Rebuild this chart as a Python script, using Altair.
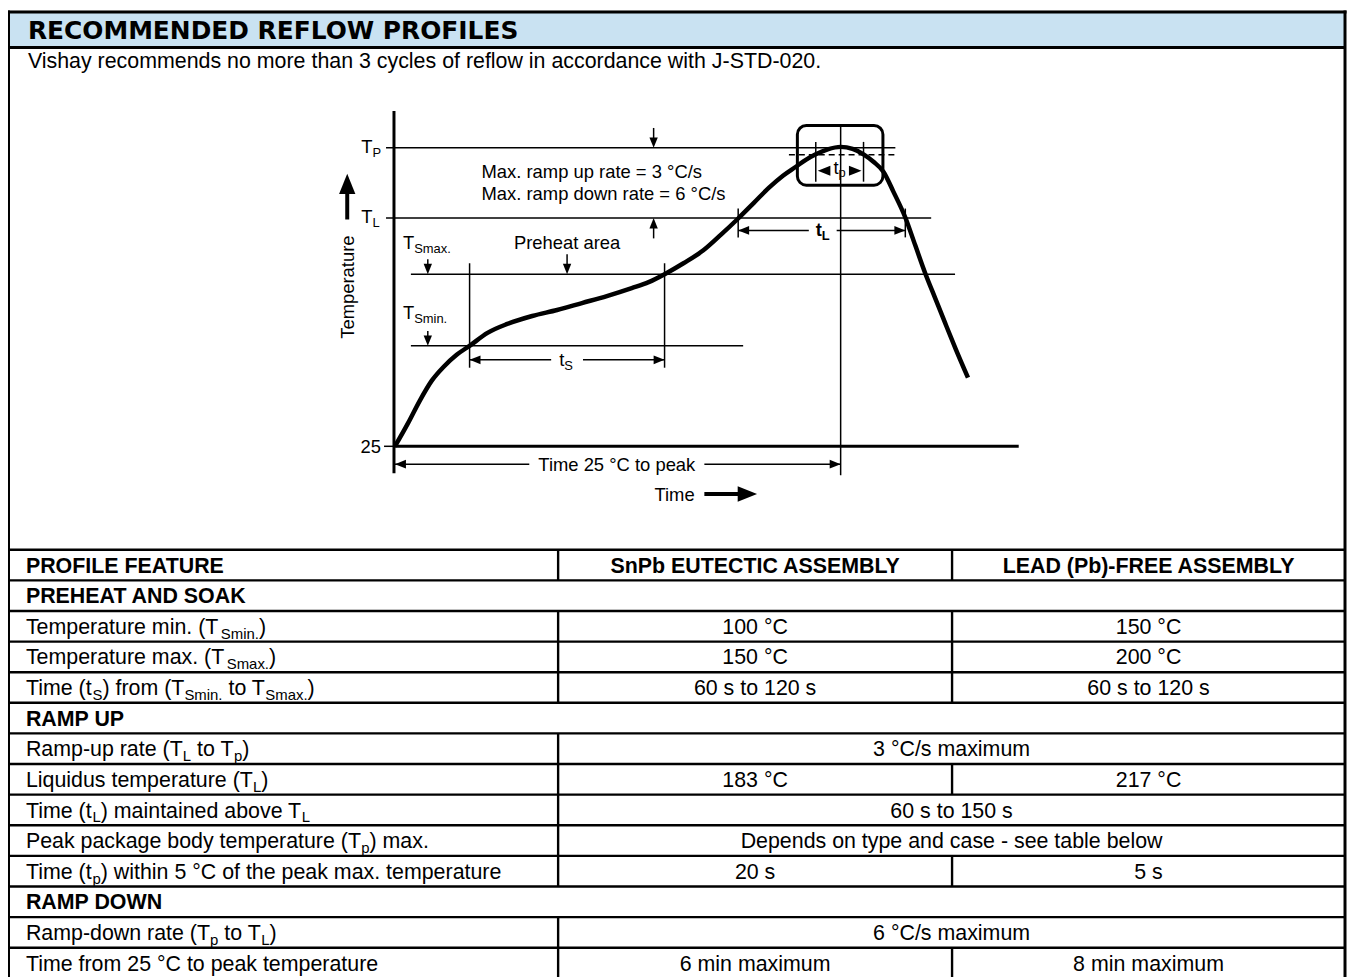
import altair as alt
import pandas as pd

# ---------------- content ----------------
TITLE = "RECOMMENDED REFLOW PROFILES"
NOTE = "Vishay recommends no more than 3 cycles of reflow in accordance with J-STD-020."

# Reflow profile curve (diagram layout units)
curve_time = [397, 410, 422, 434, 446, 459, 472, 490, 510, 535, 560, 585, 610, 635, 652, 668,
              687, 707, 725, 742, 758, 773, 787, 800, 810, 820, 832, 845, 857, 868, 878, 888,
              898, 910, 920, 930, 940, 950, 961, 973]
curve_temp = [446, 423, 400, 380, 366, 354, 345, 332, 323, 315, 309, 302, 295, 287, 281, 273,
              262, 249, 233, 217, 201, 186, 174, 165, 158, 152.5, 147.5, 145, 147, 152.5, 160, 170,
              190, 216, 244, 272, 297, 322, 349, 377]

# temperature levels of the schematic (layout units)
T_P, T_L, T_SMAX, T_SMIN, T_25 = 146, 216.5, 273, 345, 446
# time marks of the schematic (layout units)
T0, TS_A, TS_B, TL_A, T_PEAK, TL_B = 397, 472, 668, 742, 845, 910

# table
feature_rows = [
    [("PROFILE FEATURE", 0)],
    [("PREHEAT AND SOAK", 0)],
    [("Temperature min. (T", 0), ("Smin.", 1), (")", 0)],
    [("Temperature max. (T", 0), ("Smax.", 1), (")", 0)],
    [("Time (t", 0), ("S", 1), (") from (T", 0), ("Smin.", 1), (" to T", 0), ("Smax.", 1), (")", 0)],
    [("RAMP UP", 0)],
    [("Ramp-up rate (T", 0), ("L", 1), (" to T", 0), ("p", 1), (")", 0)],
    [("Liquidus temperature (T", 0), ("L", 1), (")", 0)],
    [("Time (t", 0), ("L", 1), (") maintained above T", 0), ("L", 1)],
    [("Peak package body temperature (T", 0), ("p", 1), (") max.", 0)],
    [("Time (t", 0), ("p", 1), (") within 5 °C of the peak max. temperature", 0)],
    [("RAMP DOWN", 0)],
    [("Ramp-down rate (T", 0), ("p", 1), (" to T", 0), ("L", 1), (")", 0)],
    [("Time from 25 °C to peak temperature", 0)],
]
row_type = ["header", "section", "item", "item", "item", "section", "item", "item",
            "item", "item", "item", "section", "item", "item"]
snpb = ["SnPb EUTECTIC ASSEMBLY", "", "100 °C", "150 °C", "60 s to 120 s", "",
        "3 °C/s maximum", "183 °C", "60 s to 150 s",
        "Depends on type and case - see table below", "20 s", "", "6 °C/s maximum",
        "6 min maximum"]
pbfree = ["LEAD (Pb)-FREE ASSEMBLY", "", "150 °C", "200 °C", "60 s to 120 s", "",
          "", "217 °C", "", "", "5 s", "", "", "8 min maximum"]
merged = [False, False, False, False, False, False, True, False, True, True, False, False,
          True, False]

# ---------------- layout helpers ----------------
FONT = "Liberation Sans"
_AR = {' ': 278, '!': 278, '(': 333, ')': 333, '-': 333, '.': 278, '/': 278, ',': 278,
       '=': 584, '°': 400, ':': 278,
       'A': 667, 'B': 667, 'C': 722, 'D': 722, 'E': 667, 'F': 611, 'G': 778, 'H': 722,
       'I': 278, 'J': 500, 'K': 667, 'L': 556, 'M': 833, 'N': 722, 'O': 778, 'P': 667,
       'Q': 778, 'R': 722, 'S': 667, 'T': 611, 'U': 722, 'V': 667, 'W': 944, 'X': 667,
       'Y': 667, 'Z': 611,
       'a': 556, 'b': 556, 'c': 500, 'd': 556, 'e': 556, 'f': 278, 'g': 556, 'h': 556,
       'i': 222, 'j': 222, 'k': 500, 'l': 222, 'm': 833, 'n': 556, 'o': 556, 'p': 556,
       'q': 556, 'r': 333, 's': 500, 't': 278, 'u': 556, 'v': 500, 'w': 722, 'x': 500,
       'y': 500, 'z': 500}
_AB = {' ': 278, '(': 333, ')': 333, '-': 333, '.': 278,
       'A': 722, 'B': 722, 'C': 722, 'D': 722, 'E': 667, 'F': 611, 'G': 778, 'H': 722,
       'I': 278, 'K': 722, 'L': 611, 'M': 833, 'N': 722, 'O': 778, 'P': 667, 'R': 722,
       'S': 667, 'T': 611, 'U': 722, 'W': 944, 'Y': 667, 'b': 611, 'n': 611, 't': 333}


def tw(s, size, bold=False):
    tbl = _AB if bold else _AR
    return sum(tbl.get(c, 556) for c in s) * size / 1000.0


def seg_width(segs, size, sub, bold=False):
    return sum(tw(t, sub if s else size, bold) for t, s in segs)


def place(segs, x0, base, size, sub, drop, bold=False):
    out = []
    x = x0
    for txt, is_sub in segs:
        s = sub if is_sub else size
        lead = len(txt) - len(txt.lstrip(' '))
        trail = len(txt) - len(txt.rstrip(' '))
        core = txt.strip(' ')
        x += tw(' ' * lead, s, bold)
        out.append({"x": x, "y": base + (drop if is_sub else 0), "text": core, "size": s})
        x += tw(core, s, bold) + tw(' ' * trail, s, bold)
    return out


XS = alt.Scale(domain=[8, 1354], range=[0, 1346], nice=False, zero=False)
YS = alt.Scale(domain=[8, 1000], range=[0, 992], nice=False, zero=False)


def X(f):
    return alt.X(f, type="quantitative", scale=XS, axis=None)


def Y(f):
    return alt.Y(f, type="quantitative", scale=YS, axis=None)


# ---------------- geometry ----------------
DS, DSUB = 18.5, 13      # diagram font sizes
TS_, TSUB = 21.5, 15     # table font sizes

lines = []   # x, x2, y, y2, w


def hline(y, xa, xb, w):
    lines.append({"x": xa, "x2": xb, "y": y, "y2": y, "w": w})


def vline(x, ya, yb, w):
    lines.append({"x": x, "x2": x, "y": ya, "y2": yb, "w": w})


TOP = 9.5
# frame & header
vline(8.5, TOP - 1.5, 1000, 3)
vline(1352, TOP - 1.5, 1000, 3)
hline(TOP, 7, 1353.5, 3)
hline(45, 8, 1352, 3)

# diagram axes
vline(T0 - 1, 109, 473, 3)
hline(T_25, T0 - 1, 1024, 3)
hline(T_25, 386, T0 - 1, 1.5)
# levels
hline(T_P, 388, 900, 1.5)
hline(T_L, 388, 936, 1.5)
hline(T_SMAX, 413, 960, 1.5)
hline(T_SMIN, 413, 747, 1.5)
# time verticals
vline(TS_A, 262, 367, 1.5)
vline(TS_B, 262, 367, 1.5)
vline(T_PEAK, 123, 475, 1.5)
vline(TL_A, 207, 236, 1.5)
vline(TL_B, 207, 236, 1.5)
vline(820, 140, 180, 1.5)
vline(868, 140, 180, 1.5)
# dimension arrows
hline(464, T0, 532, 1.5)
hline(464, 708, T_PEAK, 1.5)
hline(359, TS_A, 554, 1.5)
hline(359, 586, TS_B, 1.5)
hline(229, TL_A, 813, 1.5)
hline(229, 841, TL_B, 1.5)
# small pointer arrows
vline(657, 126, 140, 1.5)
vline(657, 224, 237, 1.5)
vline(430, 258, 266, 1.5)
vline(430, 330, 338, 1.5)
vline(570, 253, 266, 1.5)
# big arrows
vline(349, 190, 218, 4)
hline(494, 708, 743, 4)

# table grid
ROW0, ROWH = 550, 30.77
bounds = [ROW0 + ROWH * k for k in range(15)]
for b in bounds:
    hline(b, 8, 1352, 2.4)
for r, kind in enumerate(row_type):
    if kind == "section":
        continue
    vline(561, bounds[r], bounds[r + 1], 2.4)
    if not merged[r]:
        vline(957, bounds[r], bounds[r + 1], 2.4)

heads = [  # x, y, angle, size
    {"x": T0, "y": 464, "angle": 180, "size": 121},
    {"x": T_PEAK, "y": 464, "angle": 0, "size": 121},
    {"x": TS_A, "y": 359, "angle": 180, "size": 121},
    {"x": TS_B, "y": 359, "angle": 0, "size": 121},
    {"x": TL_A, "y": 229, "angle": 180, "size": 121},
    {"x": TL_B, "y": 229, "angle": 0, "size": 121},
    {"x": 822, "y": 169, "angle": 180, "size": 160},
    {"x": 866, "y": 169, "angle": 0, "size": 160},
    {"x": 657, "y": T_P, "angle": 90, "size": 110},
    {"x": 657, "y": T_L, "angle": 270, "size": 110},
    {"x": 430, "y": T_SMAX, "angle": 90, "size": 110},
    {"x": 430, "y": T_SMIN, "angle": 90, "size": 110},
    {"x": 570, "y": T_SMAX, "angle": 90, "size": 110},
    {"x": 349, "y": 172, "angle": 270, "size": 420},
    {"x": 761, "y": 494, "angle": 0, "size": 380},
]

# texts
left_reg, left_bold, cen_reg, cen_bold = [], [], [], []
left_reg.append({"x": 28, "y": 66, "text": NOTE, "size": TS_})
left_reg.append({"x": 484, "y": 176.5, "text": "Max. ramp up rate = 3 °C/s", "size": DS})
left_reg.append({"x": 484, "y": 198.5, "text": "Max. ramp down rate = 6 °C/s", "size": DS})
left_reg += place([("T", 0), ("P", 1)], 363, T_P + 5, DS, DSUB, 4)
left_reg += place([("T", 0), ("L", 1)], 363, T_L + 5, DS, DSUB, 4)
left_reg += place([("T", 0), ("Smax.", 1)], 405, 248, DS, DSUB, 4)
left_reg += place([("T", 0), ("Smin.", 1)], 405, 318, DS, DSUB, 4)
left_reg += place([("25", 0)], 383 - tw("25", DS), T_25 + 6.6, DS, DSUB, 4)
segs = [("t", 0), ("S", 1)]
left_reg += place(segs, 569 - seg_width(segs, DS, DSUB) / 2, 365, DS, DSUB, 4)
segs = [("t", 0), ("p", 1)]
left_reg += place(segs, 844 - seg_width(segs, DS, DSUB) / 2, 172, DS, DSUB, 3)
segs = [("t", 0), ("L", 1)]
left_bold += place(segs, 827 - seg_width(segs, DS, DSUB, True) / 2, 235, DS, DSUB, 4, True)
cen_reg.append({"x": 570, "y": 248, "text": "Preheat area", "size": DS})
cen_reg.append({"x": 620, "y": 470.6, "text": "Time 25 °C to peak", "size": DS})
cen_reg.append({"x": 678, "y": 500.5, "text": "Time", "size": DS})
rot = [{"x": 356, "y": 286, "text": "Temperature", "size": DS}]

C2, C3, CM = (561 + 957) / 2, (957 + 1352) / 2, (561 + 1352) / 2
for r, segs in enumerate(feature_rows):
    base = bounds[r] + ROWH / 2 + 7.6
    if row_type[r] in ("header", "section"):
        left_bold += place(segs, 26, base, TS_, TSUB, 5, True)
    else:
        left_reg += place(segs, 26, base, TS_, TSUB, 5)
    if row_type[r] == "header":
        cen_bold.append({"x": C2, "y": base, "text": snpb[r], "size": TS_})
        cen_bold.append({"x": C3, "y": base, "text": pbfree[r], "size": TS_})
    elif row_type[r] == "item":
        if merged[r]:
            cen_reg.append({"x": CM, "y": base, "text": snpb[r], "size": TS_})
        else:
            cen_reg.append({"x": C2, "y": base, "text": snpb[r], "size": TS_})
            cen_reg.append({"x": C3, "y": base, "text": pbfree[r], "size": TS_})

# ---------------- layers ----------------
header = alt.Chart(pd.DataFrame([{"x": 8, "x2": 1352, "y": TOP, "y2": 45}])).mark_rect(
    fill="#c9e2f2").encode(x=X("x"), x2="x2", y=Y("y"), y2="y2")

title = alt.Chart(pd.DataFrame([{"x": 28, "y": 36.5, "text": TITLE}])).mark_text(
    font="DejaVu Sans", fontWeight="bold", fontSize=25, align="left", baseline="alphabetic",
    color="black").encode(x=X("x"), y=Y("y"), text="text:N")

rules = alt.Chart(pd.DataFrame(lines)).mark_rule(color="black").encode(
    x=X("x"), x2="x2", y=Y("y"), y2="y2", strokeWidth=alt.StrokeWidth("w:Q", scale=None))

dashed = alt.Chart(pd.DataFrame([{"x": 793, "x2": 900, "y": 153, "y2": 153}])).mark_rule(
    color="black", strokeWidth=1.5, strokeDash=[6, 4]).encode(
    x=X("x"), x2="x2", y=Y("y"), y2="y2")

box = alt.Chart(pd.DataFrame([{"x": 801.5, "x2": 887.5, "y": 123.5, "y2": 183.5}])).mark_rect(
    fill="transparent", stroke="black", strokeWidth=3, cornerRadius=9).encode(
    x=X("x"), x2="x2", y=Y("y"), y2="y2")

curve = alt.Chart(pd.DataFrame({"t": curve_time, "T": curve_temp})).mark_line(
    color="black", strokeWidth=4.5, interpolate="monotone").encode(x=X("t"), y=Y("T"))

arrowheads = alt.Chart(pd.DataFrame(heads)).mark_point(
    shape="M0,0L-2,-0.8L-2,0.8Z", filled=True, color="black", opacity=1,
    strokeWidth=0).encode(x=X("x"), y=Y("y"), angle=alt.Angle("angle:Q", scale=None),
                          size=alt.Size("size:Q", scale=None))


def text_layer(rows, align, bold, angle=0):
    kw = dict(font=FONT, align=align, baseline="alphabetic", color="black")
    if bold:
        kw["fontWeight"] = "bold"
    if angle:
        kw["angle"] = angle
    return alt.Chart(pd.DataFrame(rows)).mark_text(**kw).encode(
        x=X("x"), y=Y("y"), text="text:N", size=alt.Size("size:Q", scale=None))


chart = alt.layer(
    header, rules, dashed, box, curve, arrowheads, title,
    text_layer(left_reg, "left", False),
    text_layer(left_bold, "left", True),
    text_layer(cen_reg, "center", False),
    text_layer(cen_bold, "center", True),
    text_layer(rot, "center", False, angle=270),
).properties(
    width=1346, height=992, padding=0, autosize=alt.AutoSizeParams(type="none")
).configure_view(strokeWidth=0).configure(background="white")

chart.save("out.html", embed_options={"renderer": "svg", "actions": False})
